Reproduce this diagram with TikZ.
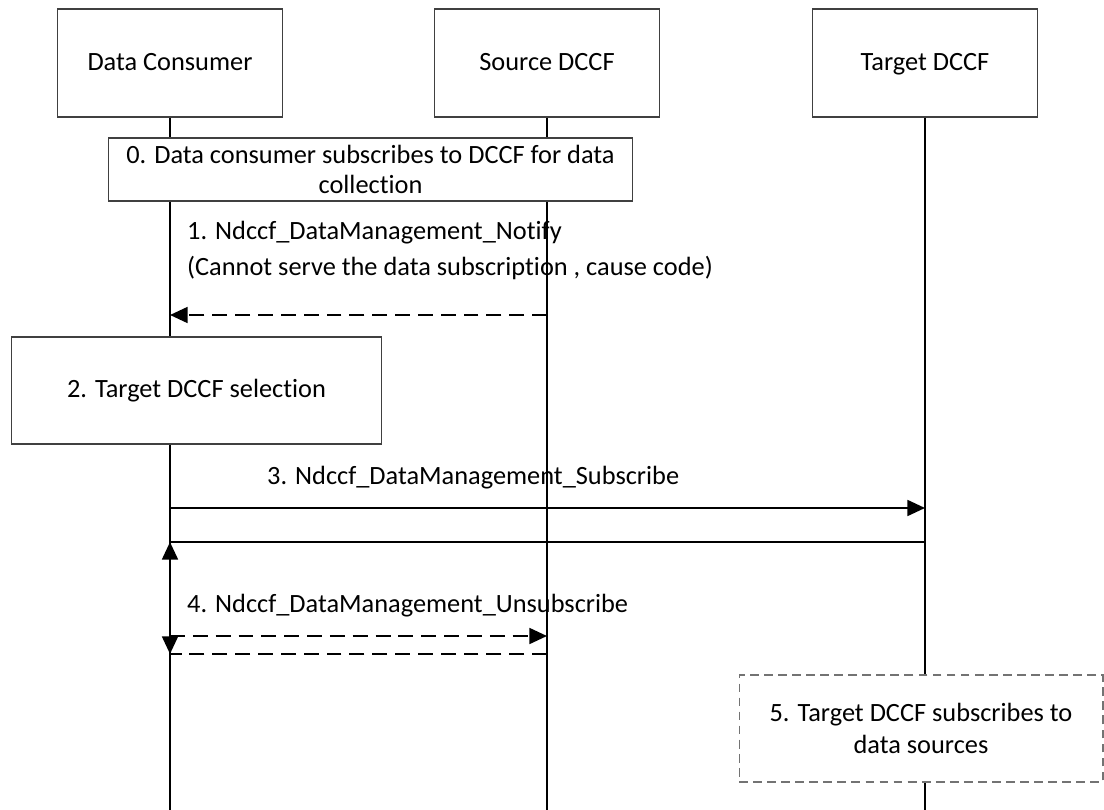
\documentclass[tikz,border=0pt]{standalone}
\usepackage{fontspec}
\setmainfont{Carlito}[Ligatures=NoCommon]
\usetikzlibrary{arrows.meta,positioning}

\begin{document}
\begin{tikzpicture}[x=0.02cm, y=-0.02cm, font=\fontsize{15}{17}\selectfont,
    actor/.style={rectangle, draw=black!75, line width=0.6pt, fill=white,
                  text height=2.2ex, text depth=0.3ex,
                  minimum width=4.5cm, minimum height=2.16cm},
    stepbox/.style={rectangle, draw=black!75, line width=0.6pt, fill=white, align=center},
    life/.style={line width=1.3pt},
    msg/.style={line width=1.3pt, -{Triangle[length=10pt,width=9pt]}},
    dashline/.style={line width=1.3pt, dash pattern=on 8.5pt off 4.5pt},
    reply/.style={msg, dashline}]
    \useasboundingbox (0,0) rectangle (1104,810);

    % Participants at top
    \node[actor] (consumer) at (170,63) {Data Consumer};
    \node[actor] (source)   at (547,63) {Source DCCF};
    \node[actor] (target)   at (925,63) {Target DCCF};

    % Message rows
    \coordinate (bottom) at (0,810);
    \coordinate (row1) at (0,315);
    \coordinate (row3) at (0,508);
    \coordinate (row3r) at (0,542);
    \coordinate (row3h) at (0,562);
    \coordinate (row4) at (0,636);
    \coordinate (row4r) at (0,654);

    % Lifelines
    \draw[life] (consumer.south) -- (consumer |- bottom);
    \draw[life] (source.south) -- (source |- bottom);
    \draw[life] (target.south) -- (target |- bottom);

    % Step 0 box
    \node[stepbox, minimum width=10.5cm, minimum height=1.26cm] (subscr) at (370.5,169.5)
      {0. Data consumer subscribes to DCCF for data\\[0.5pt]collection};

    % Step 1
    \node[anchor=west, align=left] (lbl1) at (181,250)
      {1. Ndccf\_DataManagement\_Notify\\[3.5pt](Cannot serve the data subscription , cause code)};
    \draw[reply] (source |- row1) -- (consumer |- row1);

    % Step 2 box
    \node[stepbox, minimum width=7.42cm, minimum height=2.14cm] (select) at (196.5,390.5)
      {2. Target DCCF selection};

    % Step 3
    \node[anchor=west] (lbl3) at (261,478) {3. Ndccf\_DataManagement\_Subscribe};
    \draw[msg] (consumer |- row3) -- (target |- row3);
    \draw[life] (target |- row3r) -- (consumer |- row3r);
    \draw[msg] (consumer |- row3h) -- (consumer |- row3r);

    % Step 4
    \node[anchor=west] (lbl4) at (181,606) {4. Ndccf\_DataManagement\_Unsubscribe};
    \draw[reply] (consumer |- row4) -- (source |- row4);
    \draw[dashline] (source |- row4r) -- (consumer |- row4r);
    \draw[msg] (consumer |- row4) -- (consumer |- row4r);

    % Step 5 box
    \node[stepbox, draw=black!55, dash pattern=on 5pt off 3pt, minimum width=7.28cm,
          minimum height=2.14cm] (srcsub) at (921,728.5)
      {5. Target DCCF subscribes to\\[1pt]data sources};
\end{tikzpicture}
\end{document}
